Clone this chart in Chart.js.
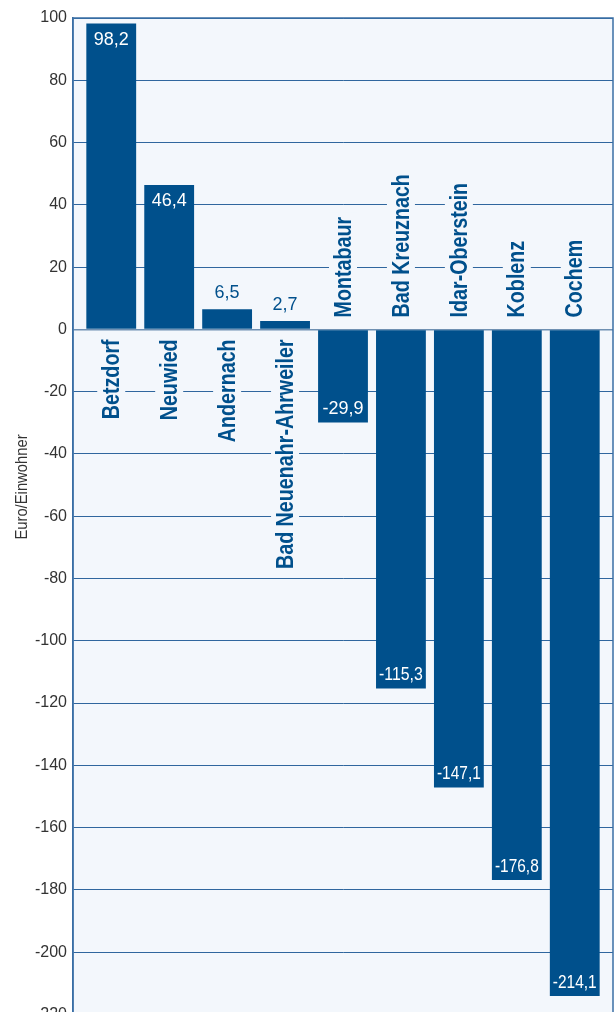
<!DOCTYPE html>
<html lang="de">
<head>
<meta charset="utf-8">
<title>Euro/Einwohner</title>
<script src="https://cdn.jsdelivr.net/npm/chart.js@4/dist/chart.umd.min.js"></script>
<style>
  html, body { margin: 0; padding: 0; background: #ffffff; overflow: hidden; }
  #wrap { position: relative; width: 614px; height: 1030px; }
</style>
</head>
<body>
<div id="wrap"><canvas id="chart"></canvas></div>
<script>
// Städte und Werte (Euro je Einwohner)
const categories = ['Betzdorf', 'Neuwied', 'Andernach', 'Bad Neuenahr-Ahrweiler', 'Montabaur',
                    'Bad Kreuznach', 'Idar-Oberstein', 'Koblenz', 'Cochem'];
const values = [98.2, 46.4, 6.5, 2.7, -29.9, -115.3, -147.1, -176.8, -214.1];
const valueLabels = ['98,2', '46,4', '6,5', '2,7', '-29,9', '-115,3', '-147,1', '-176,8', '-214,1'];
const yMin = -220;
const yMax = 100;
const yStep = 20;
const yTitle = 'Euro/Einwohner';

const BLUE = '#00508c';
const PLOT_BG = '#f3f7fc';
const SANS = "'Liberation Sans', Arial, sans-serif";
const CONDENSE = 0.82; // horizontale Stauchung der Ortsnamen

// Hintergrund und Rahmen der Zeichenfläche
const plotFrame = {
  id: 'plotFrame',
  beforeDraw(chart) {
    const { ctx, chartArea: a } = chart;
    ctx.save();
    ctx.fillStyle = PLOT_BG;
    ctx.fillRect(a.left, a.top, a.right - a.left, a.bottom - a.top);
    ctx.restore();
  },
  afterDraw(chart) {
    const { ctx, chartArea: a } = chart;
    ctx.save();
    ctx.strokeStyle = '#3a6fa5';
    ctx.lineWidth = 1.5;
    ctx.strokeRect(a.left, a.top, a.right - a.left, a.bottom - a.top);
    // Achsentitel
    ctx.translate(22, 487);
    ctx.rotate(-Math.PI / 2);
    ctx.scale(0.87, 1);
    ctx.fillStyle = '#333333';
    ctx.font = '17px ' + SANS;
    ctx.textAlign = 'center';
    ctx.textBaseline = 'middle';
    ctx.fillText(yTitle, 0, 0);
    ctx.restore();
  }
};

// Ortsnamen (senkrecht an der Nulllinie) und Wertbeschriftungen
const barLabels = {
  id: 'barLabels',
  afterDatasetsDraw(chart) {
    const { ctx } = chart;
    const zeroY = chart.scales.y.getPixelForValue(0);
    const bars = chart.getDatasetMeta(0).data;
    bars.forEach((bar, i) => {
      const v = values[i];
      // Ortsname
      ctx.save();
      ctx.font = 'bold 24px ' + SANS;
      const w = ctx.measureText(categories[i]).width;
      ctx.textBaseline = 'middle';
      if (v >= 0) {
        ctx.translate(bar.x, zeroY + 10);
        ctx.rotate(-Math.PI / 2);
        ctx.scale(CONDENSE, 1);
        ctx.fillStyle = PLOT_BG;
        ctx.fillRect(-w - 5, -14, w + 10, 28);
        ctx.fillStyle = BLUE;
        ctx.textAlign = 'right';
      } else {
        ctx.translate(bar.x, zeroY - 12);
        ctx.rotate(-Math.PI / 2);
        ctx.scale(CONDENSE, 1);
        ctx.fillStyle = PLOT_BG;
        ctx.fillRect(-5, -14, w + 10, 28);
        ctx.fillStyle = BLUE;
        ctx.textAlign = 'left';
      }
      ctx.fillText(categories[i], 0, 1);
      ctx.restore();

      // Wert
      ctx.save();
      ctx.font = '18px ' + SANS;
      ctx.textAlign = 'center';
      ctx.textBaseline = 'middle';
      const h = Math.abs(bar.base - bar.y);
      const maxW = bar.width - 6;
      if (h < 40) {
        ctx.fillStyle = BLUE;
        const y = v >= 0 ? bar.y - 16 : bar.y + 16;
        ctx.fillText(valueLabels[i], bar.x, y);
      } else {
        ctx.fillStyle = '#ffffff';
        const y = v >= 0 ? bar.y + 16 : bar.y - 13;
        ctx.fillText(valueLabels[i], bar.x, y, maxW);
      }
      ctx.restore();
    });
  }
};

new Chart(document.getElementById('chart'), {
  type: 'bar',
  data: {
    datasets: [{
      data: values.map((v, i) => ({ x: i, y: v })),
      backgroundColor: BLUE,
      borderWidth: 0,
      barPercentage: 0.86,
      categoryPercentage: 1
    }]
  },
  options: {
    responsive: true,
    maintainAspectRatio: false,
    animation: false,
    layout: { padding: { top: 18, right: 1, bottom: 0, left: 0 } },
    plugins: {
      legend: { display: false },
      tooltip: { enabled: false }
    },
    scales: {
      x: {
        type: 'linear',
        min: -0.66,
        max: 8.66,
        offset: false,
        display: false
      },
      y: {
        min: yMin,
        max: yMax,
        afterFit(scale) { scale.width = 73; },
        ticks: {
          stepSize: yStep,
          color: '#333333',
          padding: 6,
          font: { family: SANS, size: 16 },
          callback: (v) => String(v)
        },
        grid: {
          drawTicks: false,
          color: (c) => (c.tick && c.tick.value === 0) ? '#6f90b2' : '#2f669e',
          lineWidth: (c) => (c.tick && c.tick.value === 0) ? 1.5 : 1
        },
        border: { display: true, color: '#3a6fa5', width: 1.5 }
      }
    }
  },
  plugins: [plotFrame, barLabels]
});
</script>
</body>
</html>
